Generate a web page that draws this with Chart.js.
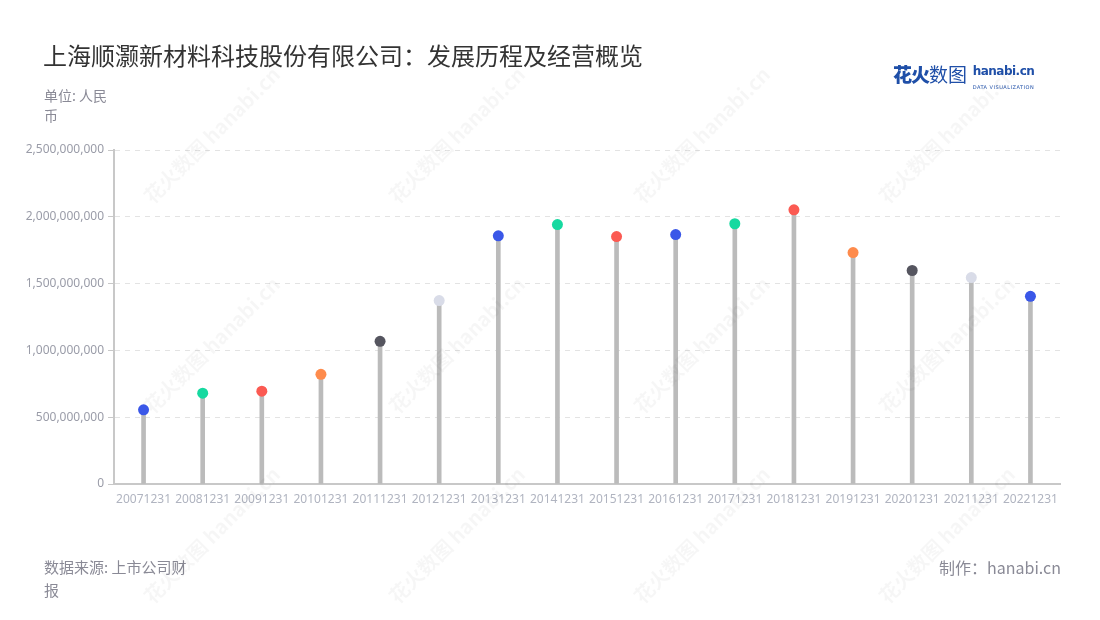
<!DOCTYPE html>
<html>
<head>
<meta charset="utf-8">
<script src="https://cdn.jsdelivr.net/npm/chart.js@4"></script>
<style>
  html,body{margin:0;padding:0;background:#fff;}
  #wrap{position:relative;width:1100px;height:620px;overflow:hidden;font-family:"Noto Sans CJK SC","Noto Sans",sans-serif;}
  #c{position:absolute;left:0;top:0;}
  .t{position:absolute;white-space:nowrap;}
  #title{left:43px;top:37px;font-size:24px;color:#333;}
  #unit{left:44px;top:85px;font-size:14px;color:#8a8a96;width:74px;white-space:normal;line-height:20px;}
  #src{left:44px;top:555px;font-size:15px;color:#8a8a96;width:150px;white-space:normal;line-height:23px;}
  #made{right:39px;top:555px;font-size:16px;color:#8a8a96;}
  #logo{left:893px;top:60px;}
  .wm{position:absolute;color:rgba(0,0,0,0.035);font-size:20px;font-weight:bold;transform:rotate(-45deg);white-space:nowrap;}
</style>
</head>
<body>
<div id="wrap">
  <canvas id="c" width="1100" height="620"></canvas>
  <div class="t" id="title">上海顺灏新材料科技股份有限公司：发展历程及经营概览</div>
  <div class="t" id="unit">单位: 人民币</div>
  <div class="t" id="src">数据来源: 上市公司财报</div>
  <div class="t" id="made">制作：hanabi.cn</div>
  <div class="t" id="logo">
    <span style="font-size:19px;font-weight:900;color:#1f4fa8;letter-spacing:-1px;">花火</span><span style="font-size:19px;color:#1f4fa8;">数图</span>
    <span style="display:inline-block;vertical-align:top;margin-left:2px;line-height:11px;margin-top:3px;">
      <span style="font-family:'DejaVu Sans';font-weight:bold;font-size:12px;color:#1f4fa8;letter-spacing:-0.5px;">hanabi.cn</span><br>
      <span style="font-family:'DejaVu Sans';font-size:5px;color:#1f4fa8;letter-spacing:0.5px;">DATA VISUALIZATION</span>
    </span>
  </div>
</div>
<script>
const categories = ["20071231","20081231","20091231","20101231","20111231","20121231","20131231","20141231","20151231","20161231","20171231","20181231","20191231","20201231","20211231","20221231"];
const values = [555000000, 680000000, 695000000, 821000000, 1068000000, 1373000000, 1858000000, 1942000000, 1852000000, 1867000000, 1948000000, 2052000000, 1732000000, 1598000000, 1545000000, 1405000000];
const dotColors = ["#3a57e8","#16d9a0","#fb5a52","#fe8b4c","#55555f","#d9dce8","#3a57e8","#16d9a0","#fb5a52","#3a57e8","#16d9a0","#fb5a52","#fe8b4c","#55555f","#d9dce8","#3a57e8"];
const yTicksMax = 2500000000;
const yStep = 500000000;

// watermarks
const wrap = document.getElementById('wrap');
[[120,120],[365,120],[610,120],[855,120],[120,330],[365,330],[610,330],[855,330],[120,520],[365,520],[610,520],[855,520]].forEach(p=>{
  const d=document.createElement('div');d.className='wm';d.textContent='花火数图 hanabi.cn';
  d.style.left=p[0]+'px';d.style.top=p[1]+'px';wrap.appendChild(d);
});

new Chart(document.getElementById('c'), {
  data: {
    labels: categories,
    datasets: [
      {
        type: 'line',
        data: values,
        showLine: false,
        pointRadius: 5.5,
        pointHoverRadius: 5.5,
        pointBorderWidth: 0,
        pointBackgroundColor: dotColors,
        pointBorderColor: dotColors,
        order: 0
      },
      {
        type: 'bar',
        data: values,
        backgroundColor: '#bbbbbb',
        barThickness: 4,
        order: 1
      }
    ]
  },
  options: {
    responsive: false,
    animation: false,
    events: [],
    layout: { padding: { left: 0, right: 40, top: 150, bottom: 100 } },
    plugins: { legend: { display: false }, tooltip: { enabled: false } },
    scales: {
      x: {
        grid: { display: false, drawOnChartArea: false, drawTicks: true, tickLength: 6, tickColor: '#c8c8c8' },
        border: { color: '#c8c8c8', width: 2 },
        ticks: { color: '#b0b4c0', font: { size: 12, family: 'Noto Sans' }, maxRotation: 0, autoSkip: false, padding: 2 },
        afterFit: s => { s.height = 36; }
      },
      y: {
        min: 0, max: yTicksMax,
        grid: { color: '#e3e3e3', tickColor: '#c8c8c8', tickLength: 6, drawTicks: true },
        border: { color: '#c8c8c8', width: 2, dash: [5,5] },
        ticks: { stepSize: yStep, color: '#9a9ca8', font: { size: 12, family: 'Noto Sans' }, padding: 4,
          callback: v => v.toLocaleString('en-US') },
        afterFit: s => { s.width = 114; }
      }
    }
  }
});
</script>
</body>
</html>
